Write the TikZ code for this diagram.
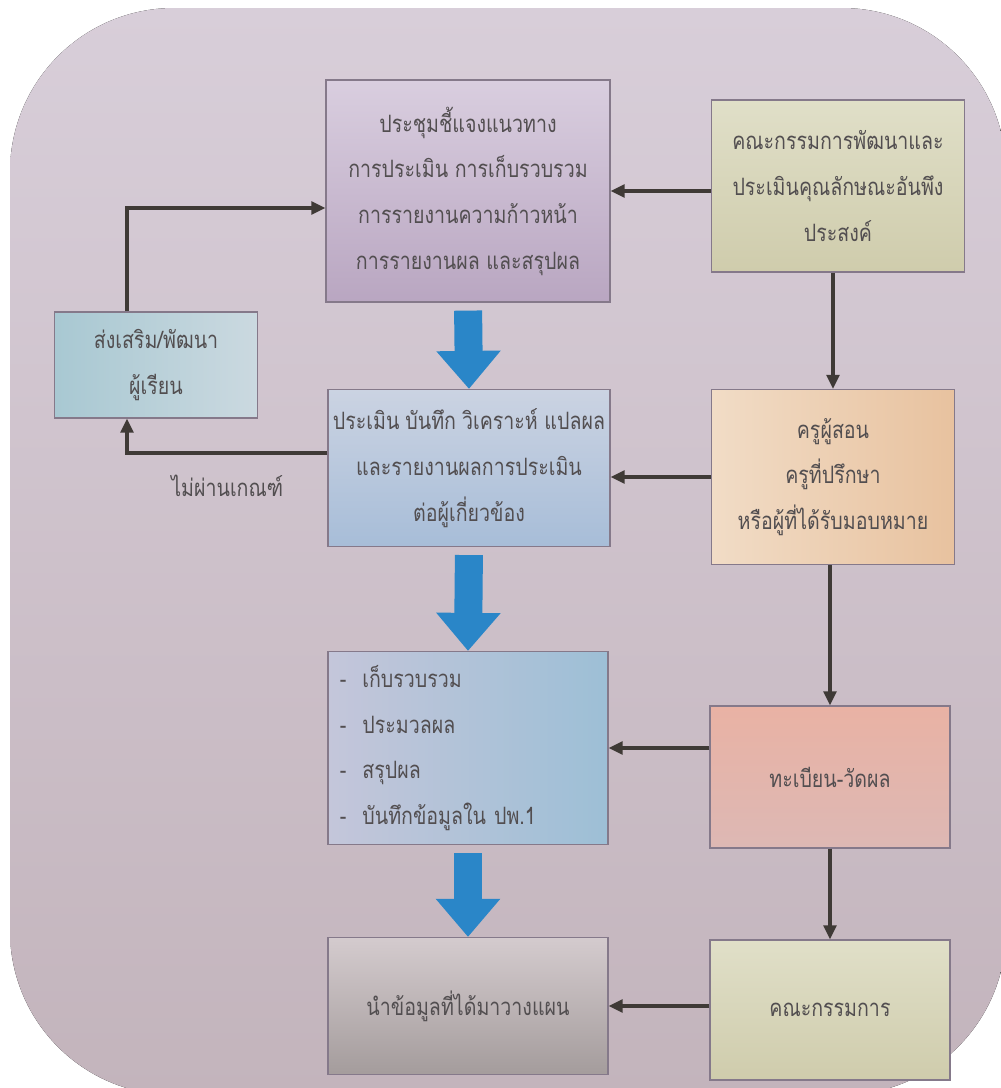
\documentclass[tikz,border=0pt]{standalone}
\usepackage{fontspec}
\newfontfamily\thaifont[Script=Thai,FakeStretch=0.82]{Loma}
\usetikzlibrary{arrows.meta,calc}
\definecolor{pagetop}{HTML}{D8CED9}
\definecolor{pagebot}{HTML}{C3B4BC}
\definecolor{boxline}{HTML}{85798A}
\definecolor{txt}{HTML}{524E50}
\definecolor{connline}{HTML}{3F3A36}
\definecolor{arrowblue}{HTML}{2A86C8}
\definecolor{purpletop}{HTML}{D9CEDF}
\definecolor{purplebot}{HTML}{B9A6C1}
\definecolor{khakitop}{HTML}{E0DFC8}
\definecolor{khakibot}{HTML}{CFCCAC}
\definecolor{tealleft}{HTML}{A8C8D2}
\definecolor{tealright}{HTML}{CBD9E0}
\definecolor{bluetop}{HTML}{CBD3E2}
\definecolor{bluebot}{HTML}{A7BDD8}
\definecolor{peachleft}{HTML}{F1DCC6}
\definecolor{peachright}{HTML}{E8C29F}
\definecolor{listleft}{HTML}{C4C6DA}
\definecolor{listright}{HTML}{9DBFD6}
\definecolor{salmontop}{HTML}{E9B2A4}
\definecolor{salmonbot}{HTML}{DDB8B4}
\definecolor{greytop}{HTML}{D4CBCE}
\definecolor{greybot}{HTML}{A49C9C}
\newcommand\thaibox{\thaifont\fontsize{17}{32.5}\selectfont}

\begin{document}
\begin{tikzpicture}[x=0.025cm,y=-0.025cm,
    box/.style={draw=boxline,line width=0.8pt,inner sep=0pt,align=center,font=\thaibox,text=txt},
    conn/.style={draw=connline,line width=2.2pt,-{Triangle[length=0.35cm,width=0.32cm]}},
    bigarrow/.style={draw=arrowblue,line width=0.7cm,-{Triangle[length=0.95cm,width=1.55cm]},shorten <=0.2cm}]
    \useasboundingbox (0,0) rectangle (1001,1088);
    % photo background
    \fill[top color=pagetop,bottom color=pagebot,rounded corners=4.1cm] (10,8) rectangle (1006,1095);

    % middle column
    \node[box,top color=purpletop,bottom color=purplebot,minimum width=7.1cm,minimum height=5.55cm] (meeting) at (468,191)
        {ประชุมชี้แจงแนวทาง\\การประเมิน การเก็บรวบรวม\\การรายงานความก้าวหน้า\\การรายงานผล และสรุปผล};
    \node[box,top color=bluetop,bottom color=bluebot,minimum width=7.05cm,minimum height=3.925cm] (assess) at (469,468)
        {ประเมิน\hspace{0.25em}บันทึก\hspace{0.25em}วิเคราะห์ แปลผล\\และรายงานผลการประเมิน\\ต่อผู้เกี่ยวข้อง};
    \node[box,left color=listleft,right color=listright,minimum width=7cm,minimum height=4.825cm,align=left,text width=6.4cm] (collect) at (468,748)
        {-~~เก็บรวบรวม\\-~~ประมวลผล\\-~~สรุปผล\\-~~บันทึกข้อมูลใน ปพ.1};
    \node[box,top color=greytop,bottom color=greybot,minimum width=7cm,minimum height=3.425cm] (plan) at (468,1006)
        {นำข้อมูลที่ได้มาวางแผน};

    % right column
    \node[box,top color=khakitop,bottom color=khakibot,minimum width=6.325cm,minimum height=4.3cm] (board) at (838,186)
        {คณะกรรมการพัฒนาและ\\ประเมินคุณลักษณะอันพึง\\ประสงค์};
    \node[box,left color=peachleft,right color=peachright,minimum width=6.075cm,minimum height=4.375cm] (teacher) at (833,477)
        {ครูผู้สอน\\ครูที่ปรึกษา\\หรือผู้ที่ได้รับมอบหมาย};
    \node[box,top color=salmontop,bottom color=salmonbot,minimum width=6cm,minimum height=3.55cm] (registry) at (830,777)
        {ทะเบียน-วัดผล};
    \node[box,top color=khakitop,bottom color=khakibot,minimum width=6cm,minimum height=3.5cm] (committee) at (830,1010)
        {คณะกรรมการ};

    % left column
    \node[box,left color=tealleft,right color=tealright,minimum width=5.075cm,minimum height=2.65cm] (support) at (156,365)
        {ส่งเสริม/พัฒนา\\ผู้เรียน};

    % big blue arrows
    \draw[bigarrow] (meeting.south) -- (assess.north);
    \draw[bigarrow] (assess.south) -- (collect.north);
    \draw[bigarrow] (collect.south) -- (plan.north);

    % thin connectors
    \draw[conn] (meeting.east -| board.west) -- (meeting.east);
    \draw[conn] (teacher.north |- board.south) -- (teacher.north);
    \draw[conn] (teacher.west) -- (teacher.west -| assess.east);
    \draw[conn] (registry.north |- teacher.south) -- (registry.north);
    \draw[conn] (collect.east -| registry.west) -- (collect.east);
    \draw[conn] (committee.north |- registry.south) -- (committee.north);
    \draw[conn] (plan.east -| committee.west) -- (plan.east);
    \draw[conn] ([xshift=-0.725cm]support.north) |- ([yshift=-0.425cm]meeting.west);
    \draw[conn] ([yshift=0.375cm]assess.west) -| ([xshift=-0.725cm]support.south)
        node[pos=0.25,below=0.4cm,font=\thaibox,text=txt] (fail) {ไม่ผ่านเกณฑ์};
\end{tikzpicture}
\end{document}
